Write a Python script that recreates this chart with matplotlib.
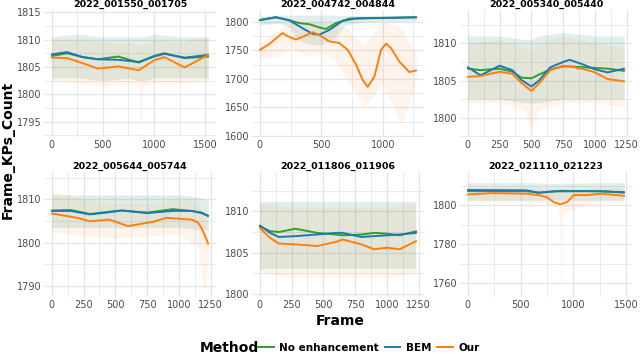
import matplotlib
matplotlib.use("Agg")
import matplotlib.pyplot as plt
from matplotlib.lines import Line2D
import numpy as np

plt.rcParams['font.family'] = ['DejaVu Sans']

titles = ["2022_001550_001705", "2022_004742_004844", "2022_005340_005440",
          "2022_005644_005744", "2022_011806_011906", "2022_021110_021223"]
methods = ["No enhancement", "BEM", "Our"]
colors = {"No enhancement": "#2ca02c", "BEM": "#1f77b4", "Our": "#ff7f0e"}

# ---------------- panel 1 ----------------
p1_x = [0, 150, 300, 450, 650, 850, 1000, 1100, 1300, 1530]
p1_noenh = [1807.0, 1807.5, 1806.8, 1806.4, 1806.9, 1805.8, 1807.0, 1807.5, 1806.6, 1806.9]
p1_bem = [1807.3, 1807.7, 1806.8, 1806.4, 1806.3, 1805.9, 1806.9, 1807.4, 1806.7, 1807.2]
p1_our = [1806.7, 1806.6, 1805.7, 1804.7, 1805.1, 1804.4, 1806.2, 1806.8, 1804.9, 1807.2]
p1_band_x = [0, 250, 500, 750, 850, 870, 890, 1000, 1250, 1530]
p1_band_lo = [1803, 1803, 1802.5, 1803, 1802.5, 1802.5, 1802.5, 1803, 1803, 1803]
p1_band_hi = [1810.5, 1811, 1810.5, 1810.5, 1810.5, 1810.5, 1810.5, 1811, 1810.5, 1810.5]
p1_our_lo = [1802.5, 1802, 1801.5, 1802, 1801.5, 1793, 1801.5, 1802, 1802, 1802.5]
p1_our_hi = [1810, 1810, 1809.5, 1809.5, 1809, 1809, 1809, 1810, 1809.5, 1810.5]

# ---------------- panel 2 ----------------
p2_noenh_x = [0, 130, 239, 321, 402, 484, 538, 620, 728, 900, 1100, 1272]
p2_noenh = [1803.5, 1808, 1803, 1798, 1796, 1790.5, 1787.6, 1798, 1806, 1807, 1807.5, 1808.5]
p2_bem_x = [0, 130, 239, 348, 429, 484, 565, 674, 783, 1000, 1272]
p2_bem = [1803, 1808.5, 1803, 1789, 1779, 1777.6, 1786, 1802, 1806, 1807, 1808]
p2_our_x = [0, 76, 185, 226, 294, 361, 429, 484, 565, 647, 715, 783, 837, 878,
            932, 986, 1027, 1068, 1136, 1217, 1272]
p2_our = [1751, 1761, 1780.6, 1775, 1769, 1775, 1782, 1777, 1766, 1763, 1751, 1725,
          1698, 1686, 1704, 1751, 1762, 1754, 1730, 1712, 1715]
p2_band_x = [0, 150, 250, 300, 400, 500, 600, 700, 850, 1000, 1150, 1272]
p2_band_lo = [1795, 1798, 1790, 1770, 1760, 1760, 1770, 1795, 1800, 1801, 1801, 1802]
p2_band_hi = [1810, 1812, 1812, 1812, 1812, 1812, 1812, 1811, 1811, 1811, 1811, 1811]
p2_our_lo = [1735, 1740, 1755, 1750, 1740, 1745, 1735, 1700, 1650, 1690, 1620, 1690]
p2_our_hi = [1765, 1785, 1800, 1795, 1800, 1800, 1795, 1790, 1760, 1800, 1790, 1745]

# ---------------- panel 3 ----------------
p3_x = [0, 100, 250, 350, 420, 500, 560, 650, 750, 800, 900, 1000, 1100, 1230]
p3_noenh = [1806.6, 1806.4, 1806.6, 1806.2, 1805.4, 1805.3, 1805.8, 1806.5, 1806.9, 1806.9, 1806.8, 1806.7, 1806.6, 1806.3]
p3_bem = [1806.8, 1805.7, 1807.0, 1806.4, 1805.1, 1804.2, 1805.0, 1806.8, 1807.5, 1807.8, 1807.2, 1806.5, 1806.1, 1806.6]
p3_our = [1805.5, 1805.6, 1806.2, 1805.9, 1804.7, 1803.6, 1804.6, 1806.4, 1807.0, 1806.9, 1806.6, 1806.1, 1805.2, 1804.9]
p3_band_x = [0, 250, 450, 500, 550, 750, 1000, 1230]
p3_band_lo = [1802.5, 1802.5, 1802, 1802, 1802, 1802.5, 1802.5, 1802.5]
p3_band_hi = [1811, 1811, 1810.5, 1810.5, 1811, 1811.5, 1811, 1811]
p3_our_lo = [1802, 1802, 1801, 1798, 1801, 1802, 1802, 1801.5]
p3_our_hi = [1810, 1810.5, 1809.5, 1809, 1810, 1811, 1810, 1809.5]

# ---------------- panel 4 ----------------
p4_x = [0, 150, 300, 450, 550, 750, 950, 1100, 1180, 1230]
p4_noenh = [1807.4, 1807.5, 1806.6, 1807.1, 1807.4, 1806.9, 1807.7, 1807.3, 1806.9, 1806.2]
p4_bem = [1807.3, 1807.3, 1806.5, 1807.0, 1807.4, 1806.8, 1807.3, 1807.3, 1806.8, 1806.1]
p4_our_x = [0, 200, 300, 450, 600, 800, 900, 1100, 1150, 1180, 1210, 1230]
p4_our = [1806.7, 1805.7, 1804.9, 1805.3, 1803.8, 1804.8, 1805.7, 1805.3, 1804.6, 1803.2, 1801.2, 1799.7]
p4_band_x = [0, 250, 500, 750, 1000, 1150, 1200, 1230]
p4_band_lo = [1803.5, 1803.5, 1803.5, 1803.5, 1803.5, 1803, 1803, 1803]
p4_band_hi = [1811, 1811, 1811, 1811, 1811, 1810.5, 1810, 1810]
p4_our_lo = [1802.5, 1801.5, 1801, 1801.5, 1802, 1799, 1788, 1795]
p4_our_hi = [1812, 1810, 1809, 1809, 1810, 1809, 1806, 1805]

# ---------------- panel 5 ----------------
p5_x = [0, 80, 150, 280, 450, 600, 650, 800, 900, 1000, 1100, 1230]
p5_noenh = [1808.2, 1807.6, 1807.5, 1807.9, 1807.4, 1807.2, 1807.1, 1807.2, 1807.4, 1807.3, 1807.1, 1807.6]
p5_bem = [1808.3, 1807.4, 1806.9, 1807.0, 1807.2, 1807.4, 1807.4, 1806.9, 1807.0, 1807.1, 1807.2, 1807.4]
p5_our = [1808.0, 1806.8, 1806.1, 1806.0, 1805.8, 1806.3, 1806.6, 1806.0, 1805.4, 1805.6, 1805.4, 1806.4]
p5_band_x = [0, 250, 500, 750, 1000, 1230]
p5_band_lo = [1803, 1803, 1803, 1803, 1803, 1803]
p5_band_hi = [1811.2, 1811.2, 1811.2, 1811.2, 1811.2, 1811.2]
p5_our_lo = [1802.5, 1802, 1802, 1802, 1802, 1802.5]
p5_our_hi = [1811, 1810.5, 1810.5, 1810.5, 1810.5, 1811]

# ---------------- panel 6 ----------------
p6_x = [0, 239, 557, 669, 748, 812, 876, 940, 1003, 1131, 1258, 1480]
p6_noenh = [1807.2, 1807.2, 1807.2, 1806.4, 1806.7, 1807.0, 1807.4, 1807.3, 1807.2, 1807.2, 1807.2, 1806.4]
p6_bem = [1807.8, 1807.7, 1807.6, 1806.4, 1806.8, 1807.1, 1807.1, 1807.1, 1807.2, 1807.2, 1807.1, 1806.7]
p6_our = [1805.5, 1806.2, 1805.9, 1805.2, 1804.1, 1801.6, 1800.5, 1801.6, 1805.2, 1805.2, 1805.9, 1804.8]
p6_band_x = [0, 300, 600, 850, 870, 885, 900, 1200, 1480]
p6_band_lo = [1802.5, 1802.5, 1802.5, 1802.5, 1802.5, 1802.5, 1802.5, 1802.5, 1802.5]
p6_band_hi = [1811.5, 1811.5, 1811.5, 1811, 1811, 1811, 1811, 1811.5, 1811.5]
p6_our_lo = [1802, 1802, 1802, 1800, 1790, 1755, 1796, 1802, 1802]
p6_our_hi = [1809, 1809, 1809, 1808, 1808, 1808, 1808, 1809, 1809]

panels = [
    dict(lines=[(p1_x, p1_noenh), (p1_x, p1_bem), (p1_x, p1_our)],
         band=(p1_band_x, p1_band_lo, p1_band_hi, p1_our_lo, p1_our_hi),
         ylim=(1792.2, 1815.4), yt=[1795, 1800, 1805, 1810, 1815], xmax=1530,
         xt=[0, 500, 1000, 1500]),
    dict(lines=[(p2_noenh_x, p2_noenh), (p2_bem_x, p2_bem), (p2_our_x, p2_our)],
         band=(p2_band_x, p2_band_lo, p2_band_hi, p2_our_lo, p2_our_hi),
         ylim=(1598, 1821), yt=[1600, 1650, 1700, 1750, 1800], xmax=1272,
         xt=[0, 500, 1000]),
    dict(lines=[(p3_x, p3_noenh), (p3_x, p3_bem), (p3_x, p3_our)],
         band=(p3_band_x, p3_band_lo, p3_band_hi, p3_our_lo, p3_our_hi),
         ylim=(1797.4, 1814.5), yt=[1800, 1805, 1810], xmax=1230,
         xt=[0, 250, 500, 750, 1000, 1250]),
    dict(lines=[(p4_x, p4_noenh), (p4_x, p4_bem), (p4_our_x, p4_our)],
         band=(p4_band_x, p4_band_lo, p4_band_hi, p4_our_lo, p4_our_hi),
         ylim=(1787.4, 1816.3), yt=[1790, 1800, 1810], xmax=1230,
         xt=[0, 250, 500, 750, 1000, 1250]),
    dict(lines=[(p5_x, p5_noenh), (p5_x, p5_bem), (p5_x, p5_our)],
         band=(p5_band_x, p5_band_lo, p5_band_hi, p5_our_lo, p5_our_hi),
         ylim=(1799.6, 1814.8), yt=[1800, 1805, 1810], xmax=1230,
         xt=[0, 250, 500, 750, 1000, 1250]),
    dict(lines=[(p6_x, p6_noenh), (p6_x, p6_bem), (p6_x, p6_our)],
         band=(p6_band_x, p6_band_lo, p6_band_hi, p6_our_lo, p6_our_hi),
         ylim=(1753, 1817), yt=[1760, 1780, 1800], xmax=1480,
         xt=[0, 500, 1000, 1500]),
]

W, H = 640, 355
fig = plt.figure(figsize=(W / 100, H / 100), dpi=100)
fig.patch.set_facecolor("white")

col_left = [44, 252, 460]
col_w = 172
row_top = [10, 172]
row_h = [127, 125]
grid_c = "#e6e6e6"

for i, p in enumerate(panels):
    r, c = divmod(i, 3)
    ax = fig.add_axes([col_left[c] / W, 1 - (row_top[r] + row_h[r]) / H,
                       col_w / W, row_h[r] / H])
    ax.set_facecolor("white")
    for s in ax.spines.values():
        s.set_visible(False)
    bx, blo, bhi, olo, ohi = p["band"]
    ax.fill_between(bx, blo, bhi, color=colors["No enhancement"], alpha=0.07, lw=0, zorder=1)
    ax.fill_between(bx, blo, bhi, color=colors["BEM"], alpha=0.07, lw=0, zorder=1)
    ax.fill_between(bx, olo, ohi, color=colors["Our"], alpha=0.08, lw=0, zorder=1)
    for m, (x, y) in zip(methods, p["lines"]):
        ax.plot(x, y, color=colors[m], lw=1.4, zorder=3, solid_capstyle="round",
                solid_joinstyle="round")
    xmax = p["xmax"]
    xt = p["xt"]
    yt = p["yt"]
    ax.set_xticks(xt)
    ax.set_yticks(yt)
    ax.set_xticks([(a + b) / 2 for a, b in zip(xt[:-1], xt[1:])] + [xt[-1] + (xt[1] - xt[0]) / 2], minor=True)
    ax.set_yticks([(a + b) / 2 for a, b in zip(yt[:-1], yt[1:])] + [yt[0] - (yt[1] - yt[0]) / 2, yt[-1] + (yt[1] - yt[0]) / 2], minor=True)
    ax.set_xlim(-0.05 * xmax, xmax * 1.05)
    ax.set_ylim(*p["ylim"])
    ax.grid(True, which="major", color=grid_c, lw=1.0, zorder=0)
    ax.grid(True, which="minor", color=grid_c, lw=0.6, zorder=0)
    ax.set_axisbelow(True)
    ax.tick_params(which="both", length=0, labelsize=7, labelcolor="#4d4d4d", pad=2)
    ax.set_title(titles[i], fontsize=6.8, fontweight="bold", pad=2.5)

fig.text(340 / W, 1 - 321 / H, "Frame", ha="center", va="center",
         fontsize=10, fontweight="bold")
fig.text(8 / W, 1 - 150 / H, "Frame_KPs_Count", ha="center", va="center",
         rotation=90, fontsize=10, fontweight="bold")

fig.text(229 / W, 1 - 348 / H, "Method", ha="center", va="center",
         fontsize=10, fontweight="bold")
handles = [Line2D([0], [0], color=colors[m], lw=1.4) for m in methods]
leg = fig.legend(handles, methods, loc="center left",
                 bbox_to_anchor=(258 / W, 1 - 348 / H), ncol=3, frameon=False,
                 prop={"size": 7.5, "weight": "bold"}, handlelength=1.5,
                 handletextpad=0.5, columnspacing=0.6, borderaxespad=0, borderpad=0)

fig.savefig("out.png", dpi=100, facecolor="white")
